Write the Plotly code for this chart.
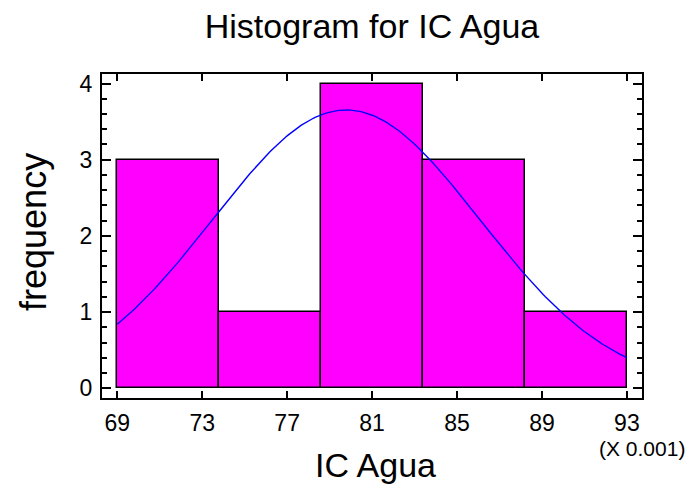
import numpy as np
import plotly.graph_objects as go

# Histogram of IC Agua (values shown in units of 0.001)
bin_edges = [69.0, 73.8, 78.6, 83.4, 88.2, 93.0]
frequencies = [3, 1, 4, 3, 1]
x_tick_vals = [69, 73, 77, 81, 85, 89, 93]
y_tick_vals = [0, 1, 2, 3, 4]

# Fitted normal distribution parameters (same 0.001 units)
fit_mean = 79.78
fit_sd = 6.29

n_obs = sum(frequencies)
bin_width = bin_edges[1] - bin_edges[0]
bin_centers = [(a + b) / 2 for a, b in zip(bin_edges[:-1], bin_edges[1:])]
bin_widths = [b - a for a, b in zip(bin_edges[:-1], bin_edges[1:])]

# Normal density scaled to frequency counts
curve_x = np.linspace(bin_edges[0], bin_edges[-1], 300)
curve_y = (n_obs * bin_width / (fit_sd * np.sqrt(2 * np.pi))
           * np.exp(-0.5 * ((curve_x - fit_mean) / fit_sd) ** 2))

font_family = "Liberation Sans, Arial, sans-serif"

fig = go.Figure()
fig.add_trace(go.Bar(
    x=bin_centers, y=frequencies, width=bin_widths,
    marker=dict(color="#FF00FF", line=dict(color="black", width=1.5)),
    showlegend=False, hoverinfo="skip",
))
fig.add_trace(go.Scatter(
    x=curve_x, y=curve_y, mode="lines",
    line=dict(color="#0000FF", width=1.4),
    showlegend=False, hoverinfo="skip",
))

fig.update_layout(
    width=692, height=486,
    margin=dict(l=102, r=50, t=74, b=88),
    paper_bgcolor="white", plot_bgcolor="white",
    font=dict(family=font_family, color="black"),
    bargap=0,
    title=dict(text="Histogram for IC Agua", x=0.5, xref="paper",
               xanchor="center", y=1 - 26 / 486, yanchor="middle",
               font=dict(size=34, family=font_family, color="black")),
    xaxis=dict(
        range=[68.28, 93.71], tickvals=x_tick_vals,
        ticks="inside", ticklen=7, tickwidth=1.5, tickcolor="black",
        showline=True, linewidth=2, linecolor="black", mirror="ticks",
        showgrid=False, zeroline=False, ticklabelstandoff=3,
        tickfont=dict(size=23, family=font_family, color="black"),
    ),
    yaxis=dict(
        range=[-0.127, 4.125], tickvals=y_tick_vals,
        ticks="inside", ticklen=9, tickwidth=1.5, tickcolor="black",
        minor=dict(dtick=0.2, ticks="inside", ticklen=5, tickwidth=1.5,
                   tickcolor="black", showgrid=False),
        showline=True, linewidth=2, linecolor="black", mirror="ticks",
        showgrid=False, zeroline=False, ticklabelstandoff=3,
        tickfont=dict(size=23, family=font_family, color="black"),
    ),
    annotations=[
        dict(text="IC Agua", xref="paper", yref="paper",
             x=0.5, xshift=3, y=-67 / 324, xanchor="center", yanchor="middle",
             showarrow=False, font=dict(size=34, family=font_family)),
        dict(text="frequency", xref="paper", yref="paper",
             x=-69 / 539.7, y=0.5, yshift=4, xanchor="center",
             yanchor="middle", textangle=-90, showarrow=False,
             font=dict(size=36, family=font_family)),
        dict(text="(X 0.001)", xref="paper", yref="paper",
             x=1.0, y=-50 / 324, xanchor="center", yanchor="middle",
             showarrow=False, font=dict(size=21, family=font_family)),
    ],
)

fig.write_html("out.html")
